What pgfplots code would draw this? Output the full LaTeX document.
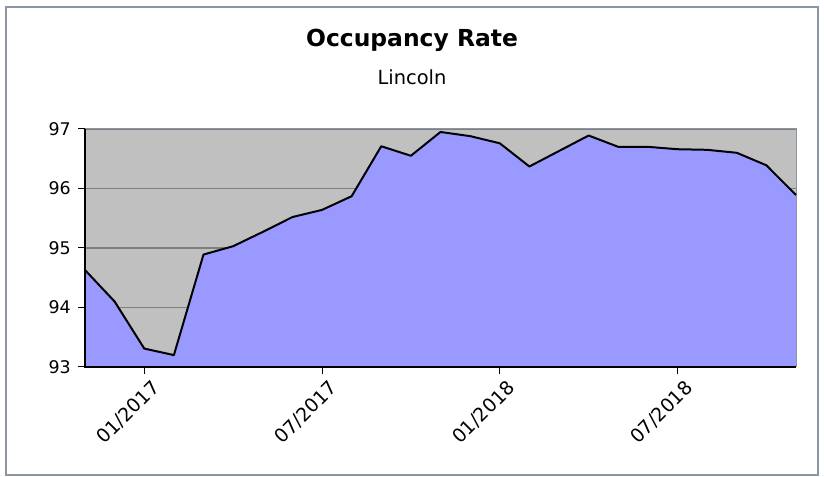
\documentclass[border=0pt]{standalone}
\usepackage{pgfplots}
\pgfplotsset{compat=1.18}
\usepackage{fontspec}
\setmainfont{DejaVu Sans}
\definecolor{areafill}{HTML}{9999FF}
\definecolor{plotbg}{HTML}{C0C0C0}
\definecolor{gridc}{HTML}{7F7F7F}
\definecolor{framec}{HTML}{8A96A2}
\pgfplotstableread{
x y
0 94.63
1 94.10
2 93.31
3 93.20
4 94.89
5 95.03
6 95.27
7 95.52
8 95.64
9 95.87
10 96.71
11 96.55
12 96.95
13 96.88
14 96.76
15 96.37
16 96.63
17 96.89
18 96.70
19 96.70
20 96.66
21 96.65
22 96.60
23 96.39
24 95.89
}\occ
\begin{document}
\begin{tikzpicture}[x=1bp,y=1bp]
\useasboundingbox (-85,-110) rectangle (739,367);
\draw[framec, line width=1.5bp] (-79,-108) rectangle (733,360);
\node[anchor=base, font=\fontsize{23.5}{26}\selectfont\bfseries] at (327,320) {Occupancy Rate};
\node[anchor=base, font=\fontsize{19.5}{22}\selectfont] at (327,282) {Lincoln};
\begin{axis}[
  at={(0,0)}, anchor=origin,
  scale only axis, width=711bp, height=238bp,
  xmin=0, xmax=24, ymin=93, ymax=97,
  axis background/.style={fill=plotbg},
  axis line style={framec, line width=1bp},
  xtick={2,8,14,20},
  xticklabels={01/2017,07/2017,01/2018,07/2018},
  ytick={93,94,95,96,97},
  xtick pos=bottom, ytick pos=left,
  tick align=outside,
  major tick length=7bp,
  tick style={black, line width=1bp},
  ymajorgrids,
  grid style={gridc, line width=1.8bp},
  xticklabel style={rotate=45, anchor=north east, font=\fontsize{19}{22}\selectfont, inner sep=1bp, yshift=-7bp, xshift=2bp},
  yticklabel style={font=\fontsize{17.5}{20}\selectfont, inner sep=1bp, xshift=-6bp},
  /pgf/number format/assume math mode=true,
  clip=false,
]
\addplot[fill=areafill, draw=none] table[x=x,y=y] {\occ} \closedcycle;
\addplot[black, line width=2bp, line join=round] table[x=x,y=y] {\occ};
\draw[black, line width=1.3bp] (rel axis cs:0,1) -- (rel axis cs:0,0) -- (rel axis cs:1,0);
\end{axis}
\end{tikzpicture}
\end{document}
